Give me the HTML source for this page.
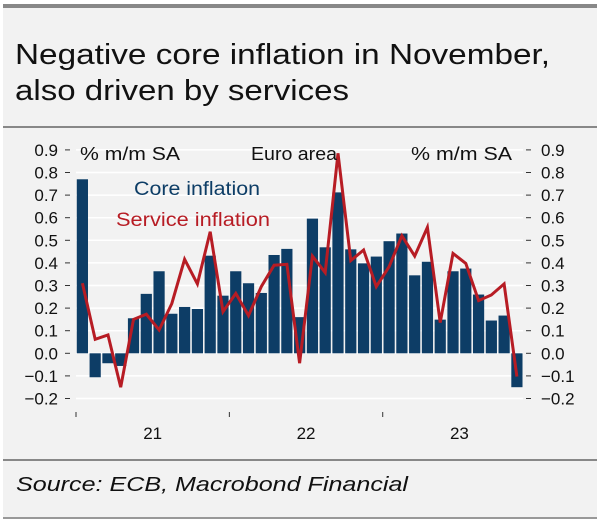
<!DOCTYPE html>
<html><head><meta charset="utf-8">
<style>
html,body{margin:0;padding:0;background:#fff;}
body{width:600px;height:527px;position:relative;overflow:hidden;font-family:"Liberation Sans","DejaVu Sans",sans-serif;}
#panel{position:absolute;left:3px;top:5px;width:594px;height:514px;background:#f2f2f2;}
</style></head>
<body>
<div id="panel"></div>
<svg id="chart" width="600" height="527" style="position:absolute;left:0;top:0">
<rect x="3" y="4" width="594" height="4" fill="#888"/>
<text x="15" y="64" font-size="29" fill="#111" textLength="535" lengthAdjust="spacingAndGlyphs">Negative core inflation in November,</text>
<text x="15" y="100" font-size="29" fill="#111" textLength="334" lengthAdjust="spacingAndGlyphs">also driven by services</text>
<rect x="3" y="126" width="594" height="2" fill="#888"/>
<rect x="3" y="459" width="594" height="2" fill="#888"/>
<rect x="3" y="517" width="594" height="2" fill="#999"/>
<text x="16" y="491" font-size="20" font-style="italic" fill="#111" textLength="392" lengthAdjust="spacingAndGlyphs">Source: ECB,  Macrobond Financial</text>
<g id="grid"></g><g id="bars"></g><g id="line"></g><g id="axes"></g>
<text x="80" y="160" font-size="18" fill="#111" textLength="100" lengthAdjust="spacingAndGlyphs">% m/m SA</text>
<text x="251" y="160" font-size="18" fill="#111" textLength="86" lengthAdjust="spacingAndGlyphs">Euro area</text>
<text x="411" y="160" font-size="18" fill="#111" textLength="101" lengthAdjust="spacingAndGlyphs">% m/m SA</text>
<text x="134" y="195" font-size="19" fill="#0d3d66" textLength="126" lengthAdjust="spacingAndGlyphs">Core inflation</text>
<text x="116" y="226" font-size="19" fill="#b71c24" textLength="154" lengthAdjust="spacingAndGlyphs">Service inflation</text>
</svg>
<script>
const core=[0.77,-0.106,-0.044,-0.056,0.155,0.263,0.363,0.175,0.205,0.196,0.432,0.255,0.363,0.31,0.267,0.435,0.462,0.16,0.596,0.469,0.712,0.46,0.398,0.428,0.496,0.53,0.345,0.405,0.149,0.363,0.375,0.26,0.145,0.167,-0.15];
const services=[0.31,0.062,0.081,-0.15,0.15,0.173,0.103,0.22,0.416,0.307,0.538,0.184,0.265,0.167,0.295,0.39,0.394,-0.044,0.43,0.357,0.885,0.41,0.457,0.295,0.383,0.52,0.43,0.557,0.136,0.442,0.398,0.233,0.258,0.307,-0.103];
const yTicks=[0.9,0.8,0.7,0.6,0.5,0.4,0.3,0.2,0.1,0.0,-0.1,-0.2];
const yearLabels=["21","22","23"];
const NS="http://www.w3.org/2000/svg";
const y0=353.3, perUnit=226;
function yScale(v){return y0-v*perUnit;}
const x0=76, step=12.78;
function xCenter(i){return x0+step*(i+0.5);}
function mk(tag,attrs,parent){const e=document.createElementNS(NS,tag);for(const k in attrs)e.setAttribute(k,attrs[k]);document.getElementById(parent).appendChild(e);return e;}
yTicks.forEach(t=>{
  const y=yScale(t);
  const g=mk('line',{x1:76,x2:523,y1:y,y2:y,stroke:'#fff','stroke-width':1.5},'grid');
  
  
  const l=t.toFixed(1).replace('-','\u2212');
  const tl=mk('text',{x:58,y:y+6,'font-size':17,'text-anchor':'end',fill:'#111'},'axes');
  tl.textContent=l;
  
  
  const tr=mk('text',{x:541,y:y+6,'font-size':17,fill:'#111'},'axes');
  tr.textContent=l;
  
  
  const d1=mk('line',{x1:65,x2:70,y1:y,y2:y,stroke:'#333','stroke-width':1},'axes');
  
  
  const d2=mk('line',{x1:526,x2:531,y1:y,y2:y,stroke:'#333','stroke-width':1},'axes');
  
  
});
core.forEach((v,i)=>{
  const x=xCenter(i)-5.6, y=Math.min(yScale(v),y0), h=Math.abs(yScale(v)-y0);
  const b=mk('rect',{x:x,y:y,width:11.2,height:h,fill:'#0d3d66'},'bars');
  
  
});
const pts=services.map((v,i)=>xCenter(i).toFixed(1)+','+yScale(v).toFixed(1)).join(' ');
const pl=mk('polyline',{points:pts,fill:'none',stroke:'#b71c24','stroke-width':3,'stroke-linejoin':'miter'},'line');


for(let k=0;k<3;k++){
  const tx=x0+step*12*k;
  const t=mk('line',{x1:tx,x2:tx,y1:412,y2:417,stroke:'#333','stroke-width':1},'axes');
  
  
  const lab=mk('text',{x:tx+step*6,y:439,'font-size':17,'text-anchor':'middle',fill:'#111'},'axes');
  lab.textContent=yearLabels[k];
  
  
}
</script>
</body></html>
